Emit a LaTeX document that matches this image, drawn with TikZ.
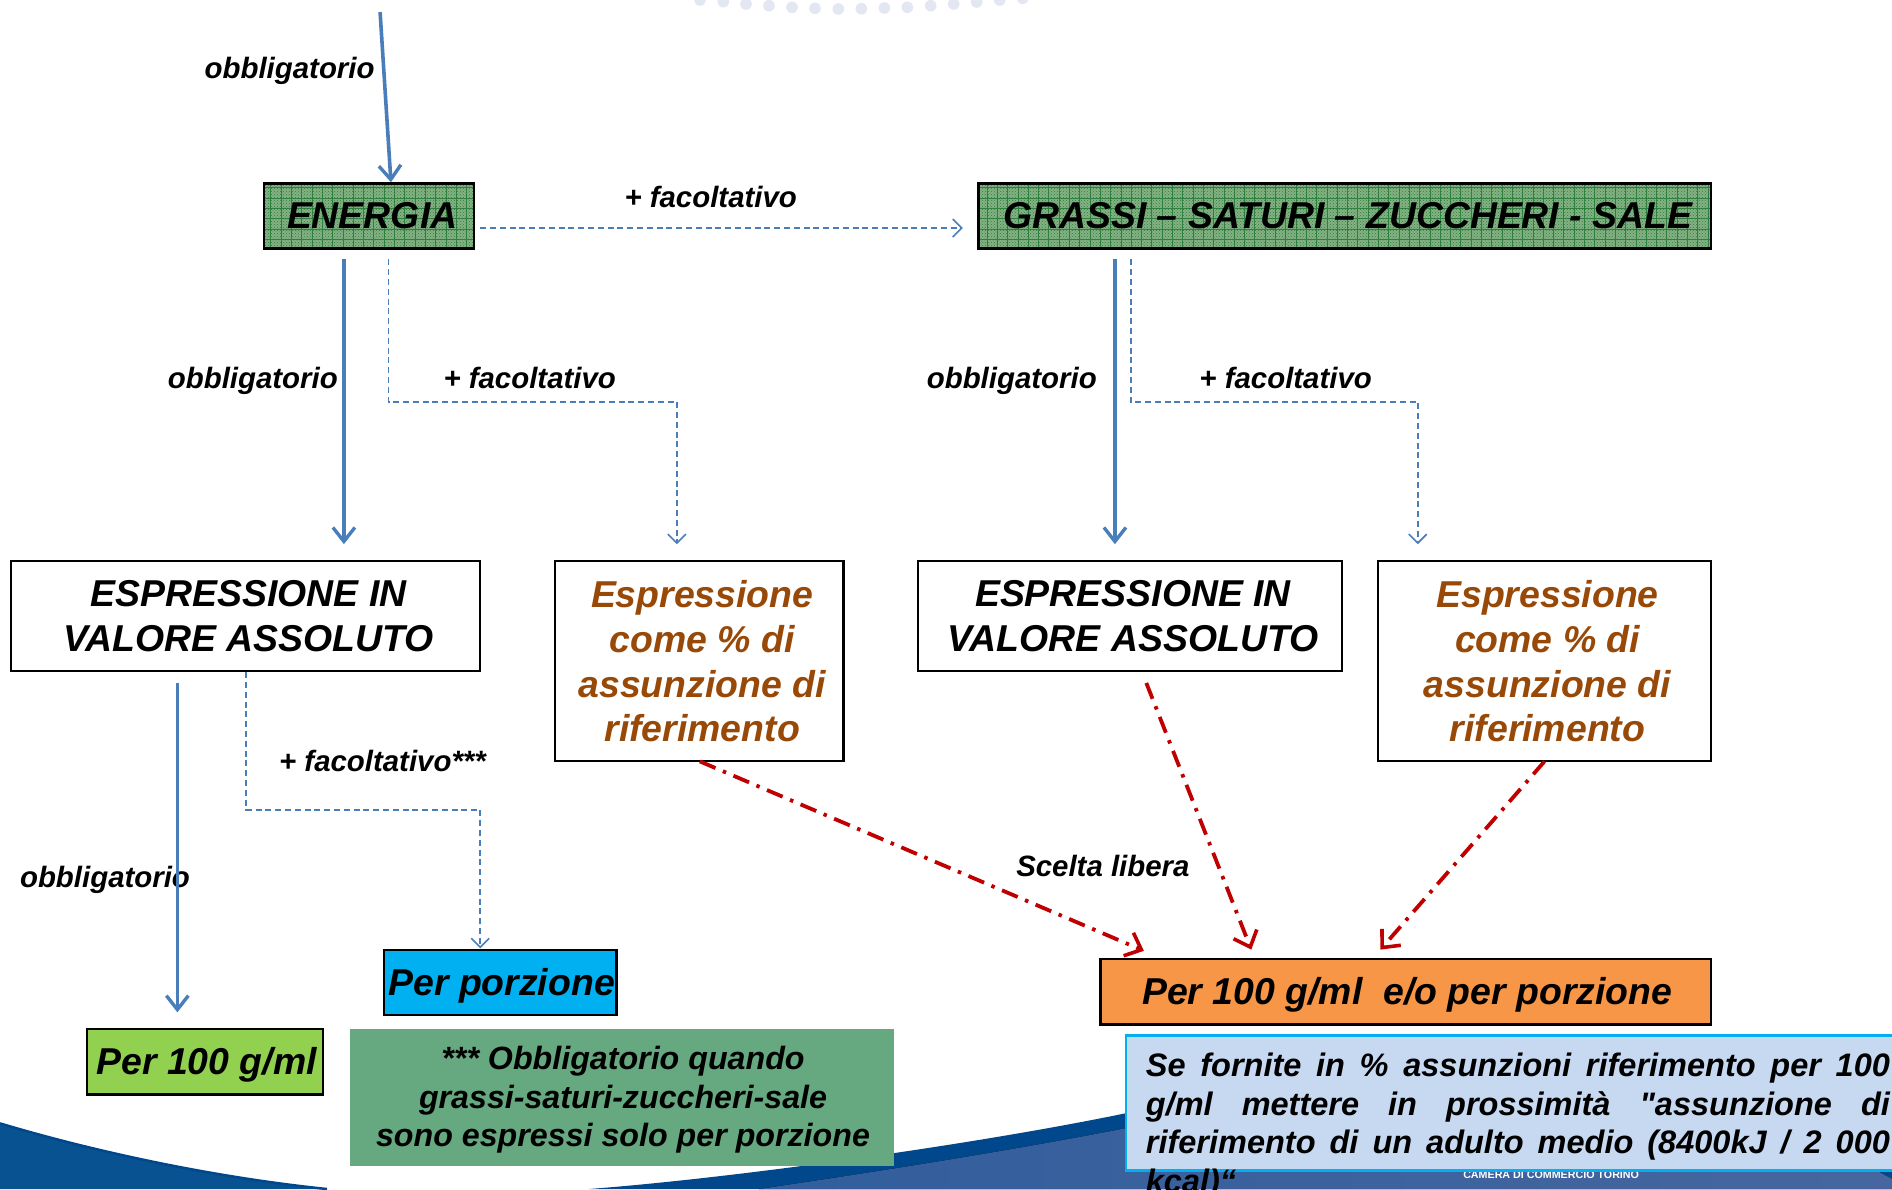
\documentclass[tikz,border=0pt]{standalone}
\usepackage{fontspec}
\setmainfont{Liberation Sans}
\usetikzlibrary{arrows.meta,patterns,calc}
\definecolor{bluel}{HTML}{4A7EBB}
\definecolor{redl}{HTML}{C00000}
\definecolor{brownt}{HTML}{984807}
\definecolor{dotc}{HTML}{E3E7F1}
\definecolor{gridg}{HTML}{2F7F3F}
\definecolor{fillg}{HTML}{85B285}
\definecolor{dgreen}{HTML}{66A880}
\definecolor{swdark}{HTML}{00478C}
\definecolor{swmid}{HTML}{085292}
\definecolor{swl}{HTML}{315E9C}
\definecolor{swr}{HTML}{47669F}
\def\uu{1.2066pt}
\newcommand{\fs}[2]{\fontsize{#1}{#2}\selectfont\bfseries\itshape}
\newcommand{\ofs}{\hspace*{6pt}}
\newcommand{\lowr}[1]{\raisebox{-13pt}[0pt][0pt]{\hspace*{3pt}#1}}
\tikzset{
  sz/.style 2 args={minimum width=#1*\uu, minimum height=#2*\uu, inner sep=0pt, outer sep=0pt},
  whitebox/.style={draw=black, line width=2.2pt, fill=white, align=center, font=\fs{37.4}{44.8}},
  gridbox/.style={draw=black, line width=2.2pt, align=center, font=\fs{37.4}{44.8},
    preaction={fill=fillg}, pattern=crosshatch dots, pattern color=gridg,
    path picture={\draw[gridg, line width=.5pt, step=10.3pt] (path picture bounding box.south west) grid (path picture bounding box.north east);}},
  plainbox/.style={draw=black, line width=2.2pt, align=center, font=\fs{37.4}{44.8}},
  lab/.style={font=\fs{29.4}{34}, inner sep=0pt},
  must/.style={draw=bluel, line width=3.6pt, -{Straight Barb[length=14pt,width=22pt,line width=3.4pt]}},
  opt/.style={draw=bluel, line width=1.9pt, dash pattern=on 6pt off 3.8pt, -{Straight Barb[length=9pt,width=18pt,line width=1.6pt,sep=0pt]}},
  pick/.style={draw=redl, line width=3.8pt, dash pattern=on 17pt off 8pt on 3.5pt off 8pt, -{Straight Barb[length=14pt,width=25pt,line width=3.6pt]}}
}
\begin{document}
\begin{tikzpicture}[x=1.2066pt,y=-1.2066pt]
\useasboundingbox (0,0) rectangle (1568,985.4);
\clip (0,0) rectangle (1568,985.4);
\fill[white] (0,0) rectangle (1568,985.4);
% background swooshes
\fill[swmid] (0,931) .. controls (70,952) and (170,975) .. (271,985.4) -- (0,985.4) -- cycle;
\draw[swdark,line width=2.5pt] (0,931) .. controls (70,952) and (170,975) .. (271,985.4);
\fill[swdark] (488,985.4) .. controls (600,977) and (800,950) .. (933,922.6) -- (1000,905) -- (1568,905) -- (1568,985.4) -- cycle;
\fill[left color=swl,right color=swr] (629,985.4) .. controls (720,972) and (830,955) .. (933,935) -- (1200,900) -- (1555,970) -- (1568,977) -- (1568,985.4) -- cycle;
% dots at the top
\foreach \xr/\yr in {700/0,723.3/1.7,746/4,769/5.7,792/7.3,815/8.3,838.3/9,861.3/8.7,884.3/8,907.3/7.3,930.7/5.7,953.7/4,976.7/2,999.7/0,1022.7/-1.7}
  \fill[dotc] (\xr pt,-\yr pt) circle[radius=5.8pt];
\node[white,font=\fontsize{10.7}{12}\selectfont\bfseries,inner sep=0pt] (cam) at (1285.5,973.5) {CAMERA DI COMMERCIO TORINO};
% boxes
\node[gridbox,sz={174}{54}] (en) at (306,179) {\ofs ENERGIA};
\node[gridbox,sz={607}{54}] (gr) at (1114.5,179) {\ofs GRASSI – SATURI – ZUCCHERI - SALE};
\node[whitebox,sz={389}{91}] (ea) at (203.5,510.5) {\ofs ESPRESSIONE IN\\\ofs VALORE ASSOLUTO};
\node[whitebox,sz={239}{166},text=brownt] (pa) at (579.5,548) {\ofs Espressione\\\ofs come \% di\\\ofs assunzione di\\\ofs riferimento};
\node[whitebox,sz={351}{91}] (eb) at (936.5,510.5) {\ofs ESPRESSIONE IN\\\ofs VALORE ASSOLUTO};
\node[whitebox,sz={276}{166},text=brownt] (pb) at (1280,548) {\ofs Espressione\\\ofs come \% di\\\ofs assunzione di\\\ofs riferimento};
\node[plainbox,sz={196}{54},fill={rgb,255:red,146;green,208;blue,80}] (g100) at (170,880) {\lowr{Per 100 g/ml}};
\node[plainbox,sz={193}{54},fill={rgb,255:red,0;green,176;blue,240}] (por) at (414.5,814) {\lowr{Per porzione}};
\node[plainbox,sz={506}{54},fill={rgb,255:red,247;green,150;blue,70}] (both) at (1165,822) {\lowr{Per 100 g/ml\ \ e/o per porzione}};
\node[sz={451}{113},fill=dgreen,font=\fs{32.2}{38.5}] (nota) at (515.5,909.5) {\raisebox{-8.5pt}[0pt][0pt]{\hspace*{2pt}\parbox[c]{520pt}{\centering\baselineskip=38.5pt *** Obbligatorio quando\\grassi-saturi-zuccheri-sale\\sono espressi solo per porzione}}};
\node[sz={660}{112},fill={rgb,255:red,198;green,217;blue,241},draw={rgb,255:red,0;green,176;blue,240},line width=2.5pt,anchor=north west] (lbox) at (933,858) {};
\node[anchor=north west,inner sep=0pt,text width=744pt,align=justify,font=\fs{32.5}{38.5}] (ltext) at (949.5,872.5) {Se fornite in \% assunzioni riferimento per 100\linebreak g/ml mettere in prossimità \textquotedbl assunzione di\linebreak riferimento di un adulto medio (8400kJ / 2 000\linebreak kcal)“};
% labels
\node[lab] (l1) at (240,59) {obbligatorio};
\node[lab] (l2) at (589,163) {+ facoltativo};
\node[lab] (l3) at (209.5,316) {obbligatorio};
\node[lab] (l4) at (439,313) {+ facoltativo};
\node[lab] (l5) at (838.5,316) {obbligatorio};
\node[lab] (l6) at (1065.5,313) {+ facoltativo};
\node[lab] (l7) at (317,631) {+ facoltativo***};
\node[lab] (l8) at (87,729) {obbligatorio};
\node[lab] (l9) at (914,718) {Scelta libera};
% connector ends
\coordinate (top) at (315,10);
\coordinate (enIn) at (324,151);
\coordinate (enOut) at (398,189);
\coordinate (grIn) at (798,189);
\coordinate (enA) at (285,215);
\coordinate (eaIn) at (285,451);
\coordinate (enB) at (322,215);
\coordinate (paIn) at (561,451);
\coordinate (grA) at (924,215);
\coordinate (ebIn) at (924,451);
\coordinate (grB) at (937,215);
\coordinate (pbIn) at (1175,451);
\coordinate (eaA) at (147,566);
\coordinate (gIn) at (147,839);
\coordinate (eaB) at (204,557);
\coordinate (porIn) at (398,786);
\coordinate (paOut) at (580,631);
\coordinate (bA) at (948,788);
\coordinate (ebOut) at (950,566);
\coordinate (bB) at (1037,787);
\coordinate (pbOut) at (1280,631);
\coordinate (bC) at (1144,787);
% connectors
\draw[must] (top) -- (enIn);
\draw[opt] (enOut) -- (grIn);
\draw[must] (enA) -- (eaIn);
\draw[opt] (enB) -- (enB |- 0,333) -- (paIn |- 0,333) -- (paIn);
\draw[must] (grA) -- (ebIn);
\draw[opt] (grB) -- (grB |- 0,333) -- (pbIn |- 0,333) -- (pbIn);
\draw[must] (eaA) -- (gIn);
\draw[opt] (eaB) -- (eaB |- 0,671) -- (porIn |- 0,671) -- (porIn);
\draw[pick] (paOut) -- (bA);
\draw[pick] (ebOut) -- (bB);
\draw[pick] (pbOut) -- (bC);
\end{tikzpicture}
\end{document}
